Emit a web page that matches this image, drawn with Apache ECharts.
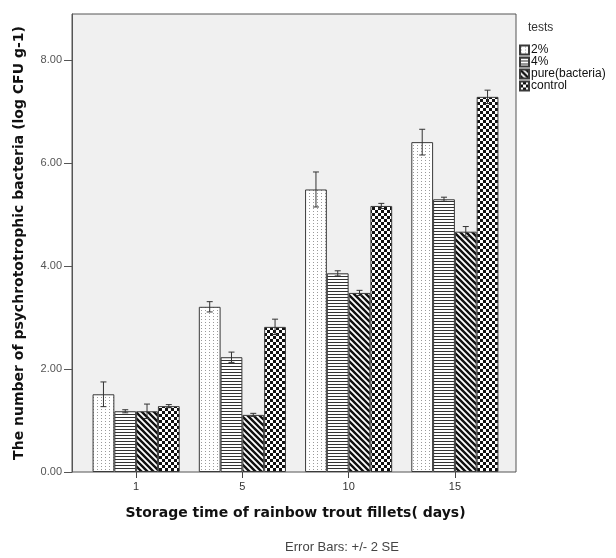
<!DOCTYPE html>
<html>
<head>
<meta charset="utf-8">
<script src="https://cdn.jsdelivr.net/npm/echarts@6/dist/echarts.min.js"></script>
<style>html,body{margin:0;padding:0;background:#fff;}#c{width:616px;height:558px;}</style>
</head>
<body>
<div id="c"></div>
<script>
const categories = ['1', '5', '10', '15'];
const seriesNames = ['2%', '4%', 'pure(bacteria)', 'control'];
const values2 = [1.51, 3.21, 5.49, 6.41];
const values4 = [1.18, 2.23, 3.86, 5.30];
const valuesPure = [1.18, 1.11, 3.48, 4.67];
const valuesControl = [1.28, 2.82, 5.17, 7.29];
const err2 = [0.24, 0.10, 0.34, 0.25];
const err4 = [0.03, 0.10, 0.05, 0.04];
const errPure = [0.14, 0.03, 0.05, 0.10];
const errControl = [0.03, 0.15, 0.05, 0.13];
const yTicks = [0, 2, 4, 6, 8];

const allValues = [values2, values4, valuesPure, valuesControl];
const allErr = [err2, err4, errPure, errControl];

function makePattern(kind) {
  const c = document.createElement('canvas');
  let ctx;
  if (kind === 0) {
    c.width = 4; c.height = 3; ctx = c.getContext('2d');
    ctx.fillStyle = '#fff'; ctx.fillRect(0, 0, 4, 3);
    ctx.fillStyle = '#9a9a9a'; ctx.fillRect(1, 1, 1, 1);
  } else if (kind === 1) {
    c.width = 4; c.height = 3; ctx = c.getContext('2d');
    ctx.fillStyle = '#fff'; ctx.fillRect(0, 0, 4, 3);
    ctx.fillStyle = '#333'; ctx.fillRect(0, 0, 4, 1);
  } else if (kind === 2) {
    c.width = 6; c.height = 6; ctx = c.getContext('2d');
    ctx.fillStyle = '#fff'; ctx.fillRect(0, 0, 6, 6);
    ctx.strokeStyle = '#111'; ctx.lineWidth = 2.4;
    ctx.beginPath();
    ctx.moveTo(-1, -1); ctx.lineTo(7, 7);
    ctx.moveTo(-4, 2); ctx.lineTo(2, 8);
    ctx.moveTo(2, -4); ctx.lineTo(8, 2);
    ctx.stroke();
  } else {
    c.width = 6; c.height = 6; ctx = c.getContext('2d');
    ctx.fillStyle = '#111'; ctx.fillRect(0, 0, 6, 6);
    ctx.fillStyle = '#fff'; ctx.fillRect(0, 0, 3, 3); ctx.fillRect(3, 3, 3, 3);
  }
  return { image: c, repeat: 'repeat' };
}

const GAP = 0.18;
const barSeries = seriesNames.map((name, i) => ({
  name: name,
  type: 'bar',
  xAxisIndex: 1,
  yAxisIndex: 1,
  barGap: '0%',
  barCategoryGap: (GAP * 100) + '%',
  data: allValues[i],
  itemStyle: { color: makePattern(i), borderColor: '#3a3a3a', borderWidth: 1 },
  emphasis: { disabled: true },
  silent: true
}));

const errData = [];
allValues.forEach((vals, s) => {
  vals.forEach((v, c) => errData.push([c, s, v, allErr[s][c]]));
});

const errSeries = {
  type: 'custom',
  name: 'err',
  xAxisIndex: 1,
  yAxisIndex: 1,
  silent: true,
  z: 10,
  data: errData,
  renderItem: function (params, api) {
    const c = api.value(0), s = api.value(1), m = api.value(2), e = api.value(3);
    const center = api.coord([c, m]);
    const band = api.size([1, 0])[0];
    const barW = band * (1 - GAP) / 4;
    const x = center[0] - band * (1 - GAP) / 2 + (s + 0.5) * barW;
    const yTop = api.coord([c, m + e])[1];
    const yBot = api.coord([c, m - e])[1];
    const cap = 3;
    const st = { stroke: '#333', lineWidth: 1 };
    return {
      type: 'group',
      children: [
        { type: 'line', shape: { x1: x, y1: yTop, x2: x, y2: yBot }, style: st },
        { type: 'line', shape: { x1: x - cap, y1: yTop, x2: x + cap, y2: yTop }, style: st },
        { type: 'line', shape: { x1: x - cap, y1: yBot, x2: x + cap, y2: yBot }, style: st }
      ]
    };
  }
};

const YMAX = 8.9;
const chart = echarts.init(document.getElementById('c'), null, { renderer: 'canvas' });
chart.setOption({
  animation: false,
  backgroundColor: '#fff',
  grid: [
    { left: 72, right: 100, top: 14, bottom: 86, show: true, backgroundColor: '#f0f0f0', borderColor: '#555', borderWidth: 1, containLabel: false },
    { left: 83, right: 108, top: 14, bottom: 86, containLabel: false }
  ],
  xAxis: [
    { type: 'value', gridIndex: 0, show: false, min: 0, max: 1 },
    {
      type: 'category', gridIndex: 1, data: categories,
      axisLine: { show: false },
      axisTick: { show: true, alignWithLabel: true, length: 6, lineStyle: { color: '#444' } },
      axisLabel: { color: '#333', fontSize: 11, fontFamily: 'Liberation Sans', margin: 9 },
      name: 'Storage time of rainbow trout fillets( days)',
      nameLocation: 'middle', nameGap: 34,
      nameTextStyle: { color: '#111', fontSize: 14, fontWeight: 'bold', fontFamily: 'DejaVu Sans' }
    }
  ],
  yAxis: [
    {
      type: 'value', gridIndex: 0, min: 0, max: YMAX, interval: 2,
      axisLine: { show: true, lineStyle: { color: '#555' } },
      axisTick: { show: true, length: 8, customValues: yTicks, lineStyle: { color: '#555' } },
      splitLine: { show: false },
      axisLabel: {
        color: '#555', fontSize: 11, fontFamily: 'Liberation Sans', margin: 10,
        customValues: yTicks,
        formatter: function (v) { return v.toFixed(2); }
      },
      name: 'The number of psychrototrophic bacteria (log CFU g-1)',
      nameLocation: 'middle', nameGap: 46,
      nameTextStyle: { color: '#111', fontSize: 14, fontWeight: 'bold', fontFamily: 'DejaVu Sans' }
    },
    { type: 'value', gridIndex: 1, min: 0, max: YMAX, show: false, splitLine: { show: false } }
  ],
  legend: {
    data: seriesNames,
    orient: 'vertical',
    left: 514, top: 39,
    itemWidth: 9, itemHeight: 9, itemGap: 0,
    icon: 'rect',
    textStyle: { color: '#111', fontSize: 12, fontFamily: 'Liberation Sans', padding: [0, 0, 0, -3] },
    selectedMode: false
  },
  graphic: [
    { type: 'text', left: 528, top: 22, style: { text: 'tests', fill: '#333', fontSize: 12, fontFamily: 'Liberation Sans' } },
    { type: 'text', x: 342, y: 547, style: { text: 'Error Bars: +/- 2 SE', fill: '#444', fontSize: 13, fontFamily: 'Liberation Sans', textAlign: 'center', textVerticalAlign: 'middle' } }
  ],
  series: barSeries.concat([errSeries])
});
</script>
</body>
</html>
